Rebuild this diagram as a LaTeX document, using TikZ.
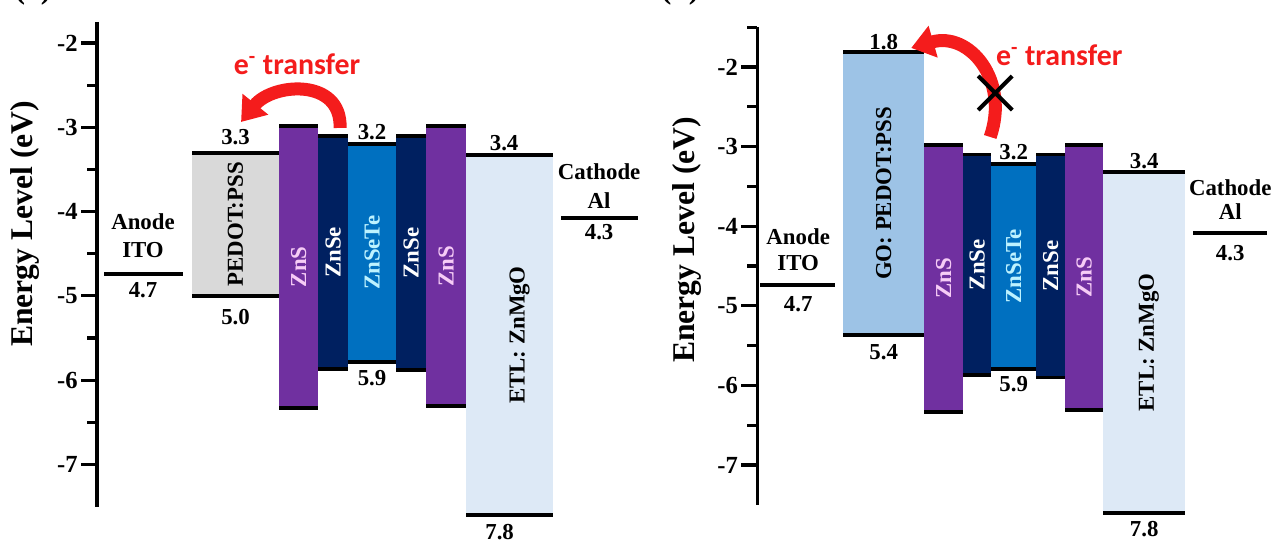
\documentclass[tikz,border=0pt]{standalone}
\usepackage{fontspec}
\setmainfont{Liberation Serif}[BoldFont={Liberation Serif Bold}]
\newfontfamily\calibfont{Carlito}
\usepackage{tikz}
\usetikzlibrary{positioning,arrows.meta,fit,shapes.misc}

\definecolor{znsPurple}{HTML}{7030A0}
\definecolor{znseNavy}{HTML}{002060}
\definecolor{znseteBlue}{HTML}{0070C0}
\definecolor{pedotGray}{HTML}{D9D9D9}
\definecolor{etlBlue}{HTML}{DDE9F6}
\definecolor{goBlue}{HTML}{9DC3E6}
\definecolor{hopRed}{HTML}{F41C1C}
\definecolor{znsText}{HTML}{F6CCF6}
\definecolor{znseteText}{HTML}{BDF2FF}

\tikzset{
  axis/.style={line width=1.8pt},
  lvl/.style={line width=2.2pt},
  bandbox/.style={inner sep=0pt, outer sep=0pt, draw=none},
  lbl/.style={font=\rmfamily\bfseries\fontsize{13}{15}\selectfont, inner sep=1pt},
  inlbl/.style={rotate=90, font=\rmfamily\bfseries\fontsize{13}{15}\selectfont, inner sep=1pt},
  ticklbl/.style={anchor=east, font=\rmfamily\bfseries\fontsize{14}{16}\selectfont, inner sep=1pt},
  axlbl/.style={rotate=90, font=\rmfamily\bfseries\fontsize{18}{20}\selectfont},
  panel/.style={anchor=south, font=\rmfamily\bfseries\fontsize{18}{20}\selectfont, inner sep=0pt},
  etr/.style={text=hopRed, font=\calibfont\bfseries\fontsize{17}{19}\selectfont},
  hop/.style={draw=hopRed, line width=7.4pt, -{Triangle[length=13pt,width=18pt]}},
  block/.style={draw=black, cross out, line width=2.3pt, minimum size=0.6cm, inner sep=0pt},
}

% one layer of the stack: name, x left, x right, top, bottom, colour
\newcommand{\bandlayer}[6]{%
  \coordinate (#1-nw) at (#2,#4);
  \coordinate (#1-se) at (#3,#5);
  \node[bandbox, fill=#6, fit=(#1-nw)(#1-se)] (#1) {};
  \draw[lvl] (#1.north west) -- (#1.north east);
  \draw[lvl] (#1.south west) -- (#1.south east);
}

\begin{document}
\begin{tikzpicture}
    \useasboundingbox (0,0) rectangle (25.6,10.88);

    % (a) PEDOT:PSS
    \begin{scope}[x=0.02cm, y=1.686cm, yshift=13.392cm]
        \node[panel] (tagA) at (33,-1.561) {(a)};
        \node[axlbl] (ylabA) at (25,-4.147) {Energy Level (eV)};
        \draw[axis] (97,-1.75) -- (97,-7.5);
        \foreach \e in {-7,...,-2}
            \draw[axis] (97,\e) -- ++(-16,0) node[ticklbl] (tickA\e) {\e};
        \foreach \e in {-6.5,-5.5,...,-2.5}
            \draw[axis] (97,\e) -- ++(-10,0);

        \coordinate (itoA-l) at (104,-4.74);
        \coordinate (itoA-r) at (183,-4.74);
        \draw[lvl] (itoA-l) -- (itoA-r);
        \node[lbl] (anodeA) at (143,-4.123) {Anode};
        \node[lbl] (itoA) at (143,-4.456) {ITO};
        \node[lbl] (itoA-v) at (143,-4.93) {4.7};

        \bandlayer{pedotA}{192}{279}{-3.3}{-5.0}{pedotGray}
        \bandlayer{znsA1}{279}{318}{-2.98}{-6.33}{znsPurple}
        \bandlayer{znseA1}{318}{348}{-3.1}{-5.87}{znseNavy}
        \bandlayer{znseteA}{348}{396}{-3.2}{-5.78}{znseteBlue}
        \bandlayer{znseA2}{396}{426}{-3.1}{-5.88}{znseNavy}
        \bandlayer{znsA2}{426}{466}{-2.98}{-6.31}{znsPurple}
        \bandlayer{etlA}{466}{553}{-3.33}{-7.6}{etlBlue}

        \node[inlbl] (pedotA-n) at (pedotA) {PEDOT:PSS};
        \node[inlbl, text=znsText] (znsA1-n) at (znsA1) {ZnS};
        \node[inlbl, text=white] (znseA1-n) at (znseA1) {ZnSe};
        \node[inlbl, text=znseteText] (znseteA-n) at (znseteA) {ZnSeTe};
        \node[inlbl, text=white] (znseA2-n) at (znseA2) {ZnSe};
        \node[inlbl, text=znsText] (znsA2-n) at (znsA2) {ZnS};
        \node[inlbl, yshift=-0.2cm] (etlA-n) at (etlA) {ETL: ZnMgO};

        \node[lbl, above=3pt of pedotA.north] (pedotA-t) {3.3};
        \node[lbl, below=6.5pt of pedotA.south] (pedotA-b) {5.0};
        \node[lbl, above=1pt of znseteA.north] (znseteA-t) {3.2};
        \node[lbl, below=3.7pt of znseteA.south] (znseteA-b) {5.9};
        \node[lbl, above=1.4pt of etlA.north, xshift=-0.11cm] (etlA-t) {3.4};
        \node[lbl, below=4.2pt of etlA.south, xshift=-0.2cm] (etlA-b) {7.8};

        \coordinate (alA-l) at (561,-4.076);
        \coordinate (alA-r) at (638,-4.076);
        \draw[lvl] (alA-l) -- (alA-r);
        \node[lbl] (cathA) at (599,-3.53) {Cathode};
        \node[lbl] (alA) at (599,-3.874) {Al};
        \node[lbl] (alA-v) at (599,-4.24) {4.3};

        \coordinate (hopA-s) at (340,-3.008);
        \coordinate (hopA-e) at (241,-2.937);
        \draw[hop] (hopA-s) to[out=88, in=51, looseness=1.3] (hopA-e);
        \node[etr] (etrA) at (297,-2.249) {e\textsuperscript{-} transfer};
    \end{scope}

    % (b) GO: PEDOT:PSS
    \begin{scope}[x=0.02cm, y=1.592cm, yshift=12.724cm]
        \node[panel] (tagB) at (680,-1.234) {(b)};
        \node[axlbl] (ylabB) at (687,-4.173) {Energy Level (eV)};
        \draw[axis] (757,-1.5) -- (757,-7.5);
        \foreach \e in {-7,...,-2}
            \draw[axis] (757,\e) -- ++(-16,0) node[ticklbl] (tickB\e) {\e};
        \foreach \e in {-6.5,-5.5,...,-1.5}
            \draw[axis] (757,\e) -- ++(-10,0);

        \coordinate (itoB-l) at (760,-4.739);
        \coordinate (itoB-r) at (835,-4.739);
        \draw[lvl] (itoB-l) -- (itoB-r);
        \node[lbl] (anodeB) at (798,-4.136) {Anode};
        \node[lbl] (itoB) at (798,-4.462) {ITO};
        \node[lbl] (itoB-v) at (798,-4.977) {4.7};

        \bandlayer{goB}{843}{924}{-1.81}{-5.367}{goBlue}
        \bandlayer{znsB1}{924}{963}{-2.98}{-6.33}{znsPurple}
        \bandlayer{znseB1}{963}{991}{-3.1}{-5.87}{znseNavy}
        \bandlayer{znseteB}{991}{1036}{-3.22}{-5.79}{znseteBlue}
        \bandlayer{znseB2}{1036}{1065}{-3.1}{-5.9}{znseNavy}
        \bandlayer{znsB2}{1065}{1103}{-2.98}{-6.31}{znsPurple}
        \bandlayer{etlB}{1103}{1185}{-3.32}{-7.6}{etlBlue}

        \node[inlbl] (goB-n) at (goB) {GO: PEDOT:PSS};
        \node[inlbl, text=znsText] (znsB1-n) at (znsB1) {ZnS};
        \node[inlbl, text=white] (znseB1-n) at (znseB1) {ZnSe};
        \node[inlbl, text=znseteText] (znseteB-n) at (znseteB) {ZnSeTe};
        \node[inlbl, text=white] (znseB2-n) at (znseB2) {ZnSe};
        \node[inlbl, text=znsText] (znsB2-n) at (znsB2) {ZnS};
        \node[inlbl, yshift=-0.09cm] (etlB-n) at (etlB) {ETL: ZnMgO};

        \node[lbl, above=0pt of goB.north] (goB-t) {1.8};
        \node[lbl, below=4.2pt of goB.south] (goB-b) {5.4};
        \node[lbl, above=1pt of znseteB.north] (znseteB-t) {3.2};
        \node[lbl, below=3pt of znseteB.south] (znseteB-b) {5.9};
        \node[lbl, above=0.5pt of etlB.north] (etlB-t) {3.4};
        \node[lbl, below=3.7pt of etlB.south] (etlB-b) {7.8};

        \coordinate (alB-l) at (1193,-4.085);
        \coordinate (alB-r) at (1267,-4.085);
        \draw[lvl] (alB-l) -- (alB-r);
        \node[lbl] (cathB) at (1230,-3.52) {Cathode};
        \node[lbl] (alB) at (1230,-3.822) {Al};
        \node[lbl] (alB-v) at (1230,-4.337) {4.3};

        \coordinate (hopB-s) at (990,-2.879);
        \coordinate (hopB-e) at (911,-1.761);
        \draw[hop] (hopB-s) to[out=71, in=16, looseness=1.3] (hopB-e);
        \node[block] (blockB) at (995,-2.327) {};
        \node[etr] (etrB) at (1059,-1.849) {e\textsuperscript{-} transfer};
    \end{scope}
\end{tikzpicture}
\end{document}
